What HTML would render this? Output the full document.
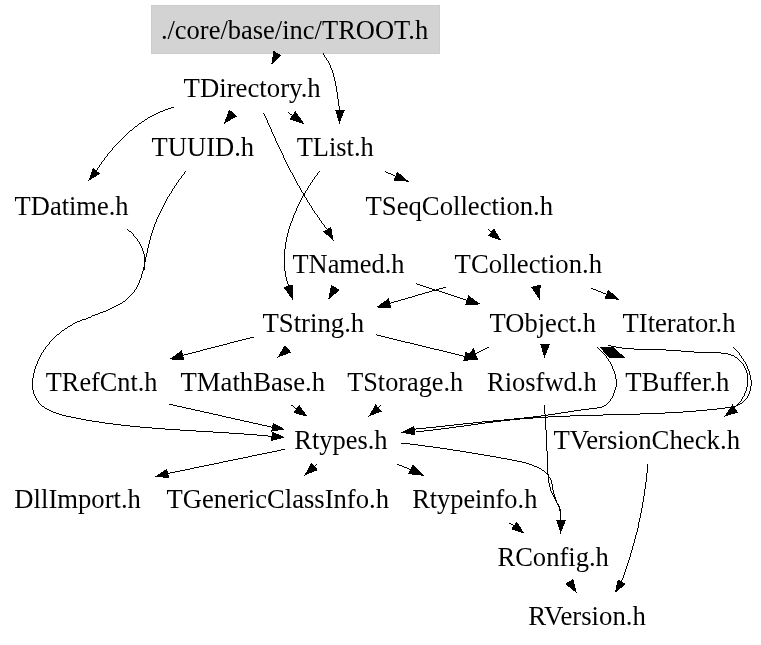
<!DOCTYPE html>
<html><head><meta charset="utf-8"><style>
html,body{margin:0;padding:0;background:#fff;}
svg{display:block;filter:grayscale(1);}
text{font-family:"Liberation Serif",serif;font-size:27.0px;fill:#000;}
</style></head><body>
<svg width="761" height="645" viewBox="0 0 761 645">
<rect x="151.5" y="5.5" width="288" height="48" fill="#d3d3d3" stroke="#cccccc" stroke-width="1"/>
<g fill="none" stroke="#000" stroke-width="0.999" shape-rendering="crispEdges">
<path d="M322.90,53.30C323.95,55.01 327.47,60.04 329.23,63.59C330.99,67.13 332.33,70.82 333.47,74.57C334.61,78.33 335.35,82.21 336.07,86.11C336.79,90.01 337.18,94.03 337.79,97.97C338.39,101.92 339.38,107.83 339.70,109.80"/>
<path d="M173.50,107.20C171.88,107.75 166.96,109.24 163.80,110.49C160.64,111.73 157.54,113.14 154.52,114.68C151.50,116.21 148.55,117.90 145.67,119.69C142.79,121.49 139.99,123.42 137.26,125.45C134.53,127.48 131.87,129.63 129.29,131.86C126.71,134.09 124.21,136.43 121.78,138.84C119.36,141.25 117.01,143.75 114.74,146.31C112.47,148.87 110.28,151.50 108.17,154.18C106.06,156.86 104.03,159.60 102.09,162.37C100.14,165.14 97.43,169.39 96.50,170.80"/>
<path d="M288.10,112.30L292.25,115.40"/>
<path d="M263.50,112.50C264.19,114.06 266.24,118.74 267.63,121.87C269.01,124.99 270.39,128.11 271.79,131.23C273.19,134.35 274.60,137.47 276.03,140.58C277.45,143.69 278.89,146.80 280.34,149.89C281.80,152.99 283.28,156.08 284.77,159.15C286.27,162.23 287.79,165.29 289.34,168.34C290.89,171.39 292.46,174.43 294.06,177.44C295.67,180.46 297.30,183.46 298.97,186.44C300.64,189.42 302.34,192.38 304.08,195.31C305.82,198.24 307.60,201.15 309.42,204.04C311.24,206.92 313.10,209.78 315.01,212.61C316.92,215.44 318.87,218.24 320.88,221.00C322.89,223.77 326.02,227.83 327.05,229.20"/>
<path d="M185.90,171.20C184.90,172.53 181.85,176.48 179.89,179.21C177.93,181.93 176.00,184.72 174.15,187.54C172.29,190.37 170.48,193.25 168.74,196.18C167.01,199.10 165.33,202.07 163.75,205.07C162.16,208.07 160.65,211.12 159.24,214.20C157.83,217.27 156.50,220.39 155.29,223.53C154.07,226.67 152.96,229.84 151.96,233.03C150.96,236.22 150.11,239.43 149.29,242.67C148.47,245.91 147.78,249.17 147.05,252.46C146.32,255.75 145.67,259.07 144.92,262.40C144.17,265.73 143.47,269.15 142.54,272.44C141.62,275.73 140.67,279.06 139.37,282.12C138.08,285.19 136.63,288.18 134.78,290.83C132.93,293.49 130.71,295.89 128.27,298.06C125.83,300.24 123.03,302.14 120.16,303.91C117.28,305.68 114.14,307.21 111.02,308.67C107.90,310.13 104.64,311.39 101.45,312.65C98.26,313.90 95.04,315.01 91.89,316.20C88.73,317.39 85.58,318.51 82.51,319.81C79.44,321.11 76.40,322.42 73.46,323.97C70.53,325.53 67.64,327.24 64.89,329.15C62.14,331.05 59.46,333.16 56.95,335.41C54.44,337.66 52.03,340.10 49.82,342.66C47.60,345.22 45.52,347.95 43.67,350.79C41.81,353.62 40.11,356.61 38.67,359.69C37.23,362.76 35.97,365.98 35.00,369.25C34.04,372.53 33.22,375.99 32.87,379.34C32.53,382.69 32.41,386.19 32.94,389.36C33.47,392.54 34.54,395.69 36.04,398.41C37.55,401.13 39.63,403.62 41.96,405.69C44.30,407.76 47.12,409.39 50.06,410.82C53.00,412.26 56.31,413.31 59.60,414.30C62.89,415.30 66.41,416.03 69.83,416.79C73.24,417.55 76.68,418.21 80.08,418.85C83.48,419.50 86.85,420.11 90.21,420.68C93.58,421.25 96.92,421.77 100.26,422.28C103.59,422.78 106.92,423.24 110.24,423.68C113.56,424.12 116.88,424.53 120.20,424.91C123.51,425.30 126.83,425.66 130.15,426.00C133.47,426.35 136.80,426.67 140.14,426.98C143.47,427.28 146.82,427.57 150.17,427.85C153.52,428.13 156.88,428.39 160.24,428.64C163.61,428.89 166.98,429.13 170.35,429.37C173.72,429.60 177.10,429.82 180.48,430.04C183.86,430.26 187.24,430.47 190.63,430.68C194.01,430.88 197.40,431.09 200.78,431.29C204.17,431.50 207.56,431.70 210.94,431.90C214.33,432.11 217.72,432.31 221.10,432.52C224.48,432.73 227.86,432.95 231.24,433.17C234.62,433.39 238.00,433.61 241.37,433.85C244.74,434.09 248.10,434.33 251.46,434.59C254.82,434.85 258.18,435.12 261.53,435.40C264.88,435.69 269.88,436.15 271.55,436.30"/>
<path d="M127.00,228.60C128.38,230.01 132.85,233.98 135.27,237.05C137.68,240.12 139.92,243.50 141.51,247.01C143.10,250.52 144.35,254.29 144.80,258.12C145.25,261.95 144.30,268.02 144.20,270.00"/>
<path d="M385.00,171.30L395.25,176.30"/>
<path d="M319.60,171.20C318.61,172.55 315.59,176.53 313.66,179.30C311.73,182.07 309.84,184.93 308.03,187.84C306.22,190.75 304.46,193.73 302.79,196.75C301.12,199.78 299.52,202.87 298.03,206.00C296.54,209.13 295.12,212.32 293.83,215.53C292.54,218.75 291.34,222.01 290.28,225.29C289.22,228.57 288.27,231.89 287.47,235.23C286.66,238.56 285.98,241.92 285.47,245.29C284.97,248.65 284.60,252.04 284.44,255.42C284.28,258.80 284.27,262.20 284.50,265.57C284.73,268.95 285.14,272.33 285.81,275.69C286.47,279.04 288.05,284.03 288.50,285.70"/>
<path d="M488.30,229.30L490.90,232.20"/>
<path d="M416.10,283.70L466.80,300.20"/>
<path d="M446.00,287.00L390.10,303.25"/>
<path d="M591.30,288.15L606.30,294.30"/>
<path d="M253.60,337.00L183.10,355.25"/>
<path d="M376.10,334.90L464.60,356.30"/>
<path d="M488.90,347.20L475.60,353.70"/>
<path d="M291.30,405.00L296.30,408.80"/>
<path d="M168.70,404.10L272.10,427.20"/>
<path d="M380.90,405.00L378.60,407.90"/>
<path d="M596.60,346.60C597.80,347.78 601.60,351.15 603.78,353.67C605.96,356.18 607.99,358.81 609.68,361.67C611.36,364.54 612.79,367.69 613.88,370.84C614.97,373.99 616.02,377.29 616.21,380.55C616.40,383.82 615.93,387.22 615.04,390.40C614.14,393.59 612.70,396.99 610.82,399.65C608.95,402.32 606.59,404.95 603.78,406.40C600.97,407.85 597.27,407.84 593.97,408.36C590.66,408.88 587.27,409.11 583.94,409.54C580.61,409.98 577.31,410.46 574.00,410.97C570.70,411.47 567.39,412.03 564.08,412.56C560.77,413.09 557.47,413.65 554.15,414.15C550.84,414.66 547.52,415.15 544.20,415.60C540.88,416.05 537.56,416.47 534.23,416.87C530.90,417.26 527.57,417.63 524.24,417.99C520.91,418.35 517.57,418.68 514.24,419.01C510.90,419.34 507.57,419.65 504.23,419.96C500.89,420.27 497.55,420.58 494.21,420.89C490.88,421.20 487.54,421.51 484.20,421.84C480.86,422.16 477.53,422.49 474.19,422.83C470.86,423.18 467.53,423.53 464.19,423.89C460.86,424.25 457.53,424.61 454.20,424.98C450.87,425.34 447.54,425.71 444.20,426.08C440.87,426.44 437.54,426.81 434.21,427.16C430.88,427.52 427.54,427.87 424.21,428.21C420.87,428.55 415.87,429.04 414.20,429.20"/>
<path d="M733.00,346.90C734.08,348.08 737.42,351.35 739.45,353.98C741.48,356.61 743.54,359.62 745.19,362.70C746.84,365.77 748.38,369.11 749.37,372.41C750.36,375.72 751.10,379.19 751.15,382.50C751.21,385.82 750.76,389.29 749.70,392.32C748.64,395.34 746.93,398.41 744.81,400.64C742.69,402.87 739.89,404.52 736.97,405.70C734.04,406.88 730.55,407.19 727.25,407.73C723.95,408.27 720.51,408.58 717.14,408.96C713.77,409.35 710.41,409.70 707.04,410.03C703.68,410.36 700.31,410.66 696.95,410.94C693.59,411.22 690.22,411.48 686.86,411.72C683.50,411.96 680.14,412.18 676.78,412.38C673.42,412.58 670.06,412.76 666.70,412.93C663.34,413.10 659.98,413.25 656.63,413.40C653.27,413.54 649.91,413.67 646.55,413.79C643.19,413.91 639.84,414.02 636.48,414.12C633.12,414.23 629.76,414.32 626.40,414.41C623.04,414.50 619.68,414.59 616.32,414.68C612.97,414.76 609.60,414.84 606.24,414.93C602.88,415.01 599.52,415.09 596.16,415.18C592.80,415.27 589.44,415.36 586.08,415.46C582.72,415.56 579.36,415.67 576.00,415.78C572.64,415.90 569.28,416.02 565.92,416.15C562.56,416.29 559.20,416.44 555.85,416.60C552.49,416.76 549.14,416.94 545.78,417.13C542.43,417.33 539.07,417.54 535.72,417.77C532.37,418.01 529.02,418.26 525.67,418.53C522.32,418.81 518.98,419.11 515.63,419.43C512.29,419.76 508.95,420.11 505.61,420.49C502.27,420.86 498.93,421.27 495.59,421.68C492.25,422.10 488.92,422.54 485.58,422.98C482.25,423.42 478.91,423.88 475.58,424.34C472.25,424.80 468.91,425.27 465.58,425.73C462.25,426.19 458.91,426.66 455.58,427.11C452.24,427.57 448.91,428.02 445.57,428.45C442.24,428.88 438.90,429.30 435.56,429.70C432.22,430.10 428.88,430.48 425.54,430.83C422.19,431.18 417.17,431.64 415.50,431.80"/>
<path d="M607.90,345.20C609.58,345.58 614.58,346.90 617.98,347.49C621.38,348.07 624.83,348.43 628.29,348.72C631.75,349.02 635.25,349.14 638.74,349.27C642.23,349.39 645.75,349.40 649.25,349.47C652.75,349.54 656.25,349.56 659.73,349.68C663.21,349.81 666.66,349.99 670.11,350.21C673.56,350.43 676.99,350.72 680.44,350.99C683.88,351.26 687.31,351.57 690.78,351.81C694.24,352.06 697.71,352.31 701.22,352.47C704.73,352.63 708.30,352.65 711.85,352.75C715.39,352.85 719.06,352.64 722.48,353.07C725.89,353.50 729.33,353.99 732.34,355.33C735.34,356.68 738.24,358.74 740.51,361.15C742.78,363.56 744.74,366.67 745.96,369.78C747.17,372.90 747.75,376.44 747.79,379.84C747.83,383.24 747.21,386.87 746.20,390.19C745.18,393.51 743.60,396.87 741.70,399.76C739.80,402.64 735.95,406.21 734.80,407.50"/>
<path d="M284.80,449.30L168.20,473.45"/>
<path d="M316.50,464.30L314.60,466.30"/>
<path d="M397.20,464.20L410.20,469.30"/>
<path d="M401.20,443.00C402.94,443.21 408.18,443.82 411.66,444.25C415.15,444.69 418.63,445.13 422.12,445.59C425.60,446.04 429.08,446.51 432.56,447.00C436.04,447.48 439.51,447.97 442.99,448.48C446.46,448.98 449.94,449.50 453.41,450.03C456.88,450.56 460.35,451.10 463.82,451.65C467.29,452.20 470.75,452.77 474.22,453.34C477.68,453.91 481.14,454.50 484.60,455.09C488.06,455.68 491.52,456.29 494.98,456.90C498.44,457.51 501.89,458.13 505.34,458.76C508.80,459.40 512.26,459.98 515.69,460.69C519.13,461.41 522.58,462.06 525.95,463.04C529.32,464.02 532.76,465.08 535.93,466.58C539.10,468.08 542.48,469.83 544.97,472.05C547.47,474.28 549.59,476.94 550.91,479.93C552.23,482.92 552.06,486.68 552.88,490.01C553.70,493.34 554.68,496.66 555.82,499.90C556.96,503.14 558.94,506.11 559.74,509.46C560.54,512.81 560.46,518.24 560.60,520.00"/>
<path d="M544.30,404.90C544.44,406.68 544.88,412.03 545.13,415.60C545.38,419.17 545.60,422.75 545.80,426.32C546.01,429.89 546.19,433.47 546.36,437.05C546.54,440.62 546.70,444.20 546.85,447.78C547.01,451.36 547.16,454.94 547.31,458.53C547.46,462.11 547.57,465.71 547.78,469.28C547.99,472.85 548.08,476.47 548.57,479.95C549.06,483.44 549.60,486.91 550.72,490.20C551.84,493.49 553.72,496.52 555.31,499.67C556.89,502.82 559.32,505.71 560.20,509.10C561.09,512.49 560.53,518.18 560.60,520.00"/>
<path d="M509.20,523.10L513.90,525.40"/>
<path d="M647.90,463.70C647.74,465.38 647.30,470.41 646.94,473.76C646.58,477.11 646.19,480.45 645.75,483.79C645.32,487.13 644.85,490.46 644.35,493.78C643.84,497.11 643.30,500.43 642.72,503.74C642.14,507.05 641.52,510.35 640.87,513.65C640.21,516.95 639.52,520.23 638.79,523.51C638.06,526.79 637.29,530.07 636.49,533.33C635.68,536.59 634.84,539.85 633.96,543.09C633.08,546.33 632.17,549.57 631.21,552.79C630.26,556.01 629.26,559.23 628.23,562.43C627.20,565.63 626.14,568.82 625.03,572.00C623.92,575.18 622.17,579.92 621.60,581.50"/>
</g>
<g fill="#000" stroke="none" shape-rendering="crispEdges">
<polygon points="273.6,50.9 271.2,64.7 281.6,55.4"/>
<polygon points="335.1,109.6 339.4,123.8 344.9,110.0"/>
<polygon points="92.9,167.9 88.3,181.0 100.1,173.7"/>
<polygon points="229.2,109.5 223.8,124.1 237.2,116.1"/>
<polygon points="289.2,119.4 304.4,124.1 295.4,111.0"/>
<polygon points="323.0,231.5 333.6,240.8 331.1,226.9"/>
<polygon points="271.2,441.0 285.0,437.3 271.9,431.6"/>
<polygon points="393.4,181.1 408.9,181.6 397.1,171.5"/>
<polygon points="283.5,287.2 292.6,300.0 293.4,284.3"/>
<polygon points="487.9,235.9 501.5,240.7 493.9,228.5"/>
<polygon points="331.3,284.8 328.1,299.7 340.0,290.0"/>
<polygon points="465.3,305.1 480.8,304.4 468.3,295.3"/>
<polygon points="388.7,298.3 376.0,307.4 391.5,308.2"/>
<polygon points="531.0,287.0 539.5,299.7 540.8,284.6"/>
<polygon points="604.4,299.0 619.7,299.7 608.2,289.6"/>
<polygon points="181.6,350.4 169.2,359.4 184.6,360.1"/>
<polygon points="285.0,344.9 277.4,357.6 291.2,352.5"/>
<polygon points="463.2,361.0 478.0,359.5 465.5,351.5"/>
<polygon points="473.5,347.9 464.0,360.7 478.0,359.4"/>
<polygon points="540.2,344.1 544.4,358.0 549.8,344.5"/>
<polygon points="293.5,412.8 307.6,416.8 299.1,404.8"/>
<polygon points="271.3,431.7 285.0,429.4 272.9,422.7"/>
<polygon points="375.6,404.3 368.3,416.6 381.7,411.5"/>
<polygon points="414.1,425.7 401.0,432.6 415.6,435.4"/>
<polygon points="732.5,404.2 724.2,416.7 737.8,412.5"/>
<polygon points="599.0,346.6 613.9,347.3 625.3,358.0 609.0,357.6"/>
<polygon points="167.1,468.8 155.0,476.7 169.3,478.1"/>
<polygon points="311.4,462.7 304.3,475.6 317.9,470.0"/>
<polygon points="407.9,474.1 423.8,475.8 412.5,464.5"/>
<polygon points="556.2,520.0 560.6,533.8 565.8,520.2"/>
<polygon points="511.1,529.1 524.4,533.5 516.8,521.7"/>
<polygon points="617.8,579.2 614.9,593.0 625.8,584.0"/>
<polygon points="565.1,584.0 576.7,593.0 573.3,578.8"/>
</g>
<text x="160.88" y="38.70" textLength="267.28" lengthAdjust="spacingAndGlyphs">./core/base/inc/TROOT.h</text>
<text x="183.62" y="97.30" textLength="137.14" lengthAdjust="spacingAndGlyphs">TDirectory.h</text>
<text x="151.62" y="155.90" textLength="102.53" lengthAdjust="spacingAndGlyphs">TUUID.h</text>
<text x="296.72" y="155.90" textLength="77.01" lengthAdjust="spacingAndGlyphs">TList.h</text>
<text x="14.62" y="214.50" textLength="113.98" lengthAdjust="spacingAndGlyphs">TDatime.h</text>
<text x="365.52" y="214.50" textLength="187.62" lengthAdjust="spacingAndGlyphs">TSeqCollection.h</text>
<text x="292.53" y="273.10" textLength="112.00" lengthAdjust="spacingAndGlyphs">TNamed.h</text>
<text x="454.62" y="273.10" textLength="147.42" lengthAdjust="spacingAndGlyphs">TCollection.h</text>
<text x="262.42" y="331.70" textLength="101.82" lengthAdjust="spacingAndGlyphs">TString.h</text>
<text x="489.62" y="331.70" textLength="106.33" lengthAdjust="spacingAndGlyphs">TObject.h</text>
<text x="622.52" y="331.70" textLength="113.03" lengthAdjust="spacingAndGlyphs">TIterator.h</text>
<text x="45.83" y="391.10" textLength="111.60" lengthAdjust="spacingAndGlyphs">TRefCnt.h</text>
<text x="180.52" y="391.10" textLength="144.51" lengthAdjust="spacingAndGlyphs">TMathBase.h</text>
<text x="347.23" y="391.10" textLength="116.00" lengthAdjust="spacingAndGlyphs">TStorage.h</text>
<text x="486.96" y="391.10" textLength="109.79" lengthAdjust="spacingAndGlyphs">Riosfwd.h</text>
<text x="625.22" y="391.10" textLength="104.22" lengthAdjust="spacingAndGlyphs">TBuffer.h</text>
<text x="294.26" y="448.90" textLength="93.28" lengthAdjust="spacingAndGlyphs">Rtypes.h</text>
<text x="553.52" y="448.90" textLength="186.52" lengthAdjust="spacingAndGlyphs">TVersionCheck.h</text>
<text x="14.35" y="507.50" textLength="126.58" lengthAdjust="spacingAndGlyphs">DllImport.h</text>
<text x="166.62" y="507.50" textLength="222.34" lengthAdjust="spacingAndGlyphs">TGenericClassInfo.h</text>
<text x="412.16" y="507.50" textLength="125.17" lengthAdjust="spacingAndGlyphs">Rtypeinfo.h</text>
<text x="497.46" y="566.10" textLength="111.38" lengthAdjust="spacingAndGlyphs">RConfig.h</text>
<text x="528.35" y="624.70" textLength="117.50" lengthAdjust="spacingAndGlyphs">RVersion.h</text>
</svg>
</body></html>
